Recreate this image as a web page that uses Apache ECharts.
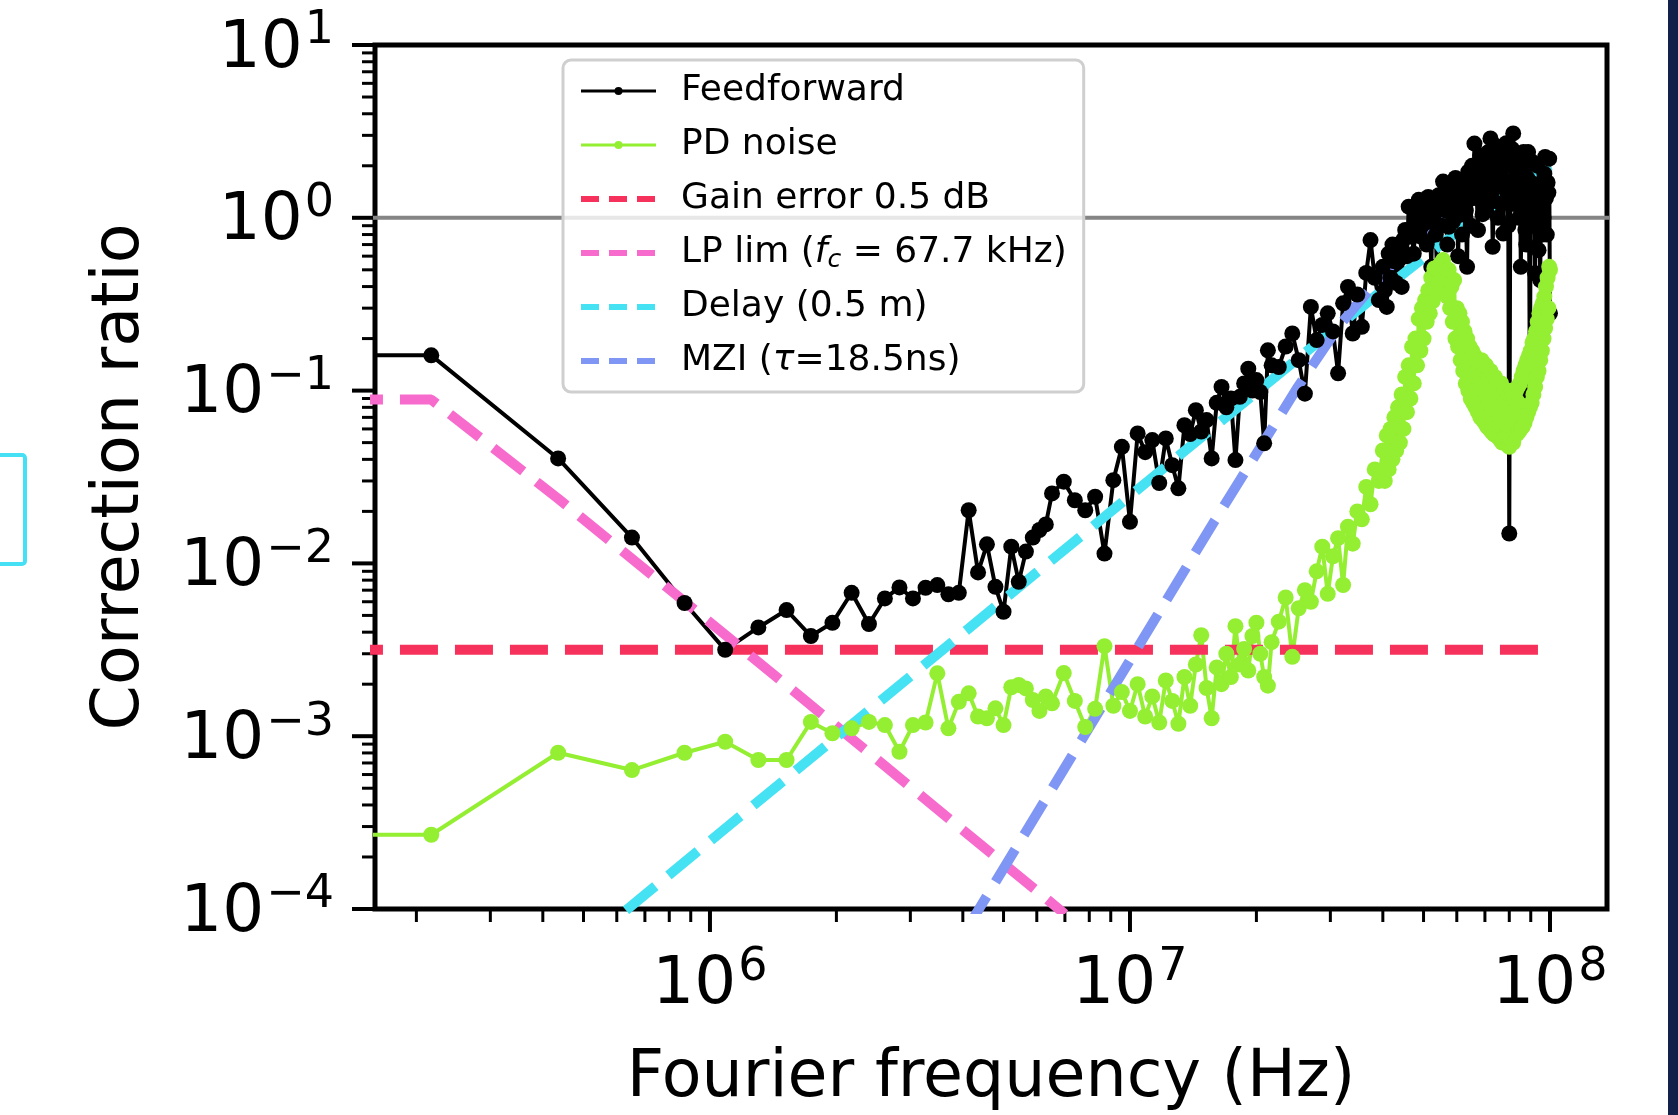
<!DOCTYPE html>
<html><head><meta charset="utf-8">
<script src="https://cdn.jsdelivr.net/npm/echarts@6/dist/echarts.min.js"></script>
<style>html,body{margin:0;padding:0;background:#fff;overflow:hidden}#c{width:1678px;height:1115px}</style>
</head><body><div id="c"></div>
<script>
// ---------- DATA ----------
// FFT bin frequencies (MHz); first entry lies left of the visible range
const freqMHz = [0.1,
0.217, 0.435, 0.652, 0.870, 1.087, 1.304, 1.522, 1.739, 1.957, 2.174,
2.391, 2.609, 2.826, 3.043, 3.261, 3.478, 3.696, 3.913, 4.130, 4.348,
4.565, 4.783, 5.000, 5.217, 5.435, 5.652, 5.870, 6.087, 6.304, 6.522,
6.957, 7.391, 7.826, 8.261, 8.696, 9.130, 9.565, 10.00, 10.43, 10.87,
11.30, 11.74, 12.17, 12.61, 13.04, 13.48, 13.91, 14.35, 14.78, 15.22,
15.65, 16.09, 16.52, 16.96, 17.39, 17.83, 18.26, 18.70, 19.13, 19.57,
20.00, 20.43, 20.87, 21.30, 21.74,
22.61, 23.48, 24.35, 25.22, 26.09, 26.96, 27.83, 28.70, 29.57, 30.43,
31.30, 32.17, 33.04, 33.91, 34.78, 35.65, 36.52, 37.39, 38.26, 39.13,
40.00, 40.43, 40.87, 41.30, 41.74, 42.17, 42.61, 43.04, 43.48, 43.91,
44.35, 44.78, 45.22, 45.65, 46.09, 46.52, 46.96, 47.39, 47.83, 48.26,
48.70, 49.13, 49.57, 50.00, 50.43, 50.87, 51.30, 51.74, 52.17, 52.61,
53.04, 53.48, 53.91, 54.35, 54.78, 55.22, 55.65, 56.09, 56.52, 56.96,
57.39, 57.83, 58.26, 58.70, 59.13, 59.57, 60.00, 60.43, 60.87, 61.30,
61.74, 62.17, 62.61, 63.04, 63.48, 63.91, 64.35, 64.78, 65.22, 65.65,
66.09, 66.52, 66.96, 67.39, 67.83, 68.26, 68.70, 69.13, 69.57, 70.00,
70.43, 70.87, 71.30, 71.74, 72.17, 72.61, 73.04, 73.48, 73.91, 74.35,
74.78, 75.22, 75.65, 76.09, 76.52, 76.96, 77.39, 77.83, 78.26, 78.70,
79.13, 79.57, 80.00, 80.43, 80.87, 81.30, 81.74, 82.17, 82.61, 83.04,
83.48, 83.91, 84.35, 84.78, 85.22, 85.65, 86.09, 86.52, 86.96, 87.39,
87.83, 88.26, 88.70, 89.13, 89.57, 90.00, 90.43, 90.87, 91.30, 91.74,
92.17, 92.61, 93.04, 93.48, 93.91, 94.35, 94.78, 95.22, 95.65, 96.09,
96.52, 96.96, 97.39, 97.83, 98.26, 98.70, 99.13, 99.57, 100.0];

const feedforward = [0.160,
0.160, 0.0405, 0.0141, 0.00590, 0.00316, 0.00426, 0.00537, 0.00380, 0.00453, 0.00676,
0.00446, 0.00627, 0.00726, 0.00627, 0.00723, 0.00749, 0.00662, 0.00676, 0.0203, 0.00887,
0.0129, 0.00732, 0.00525, 0.0125, 0.00782, 0.0117, 0.0141, 0.0156, 0.0168, 0.0254,
0.0297, 0.0232, 0.0203, 0.0243, 0.0114, 0.0303, 0.0473, 0.0174, 0.0565, 0.0440,
0.0517, 0.0292, 0.0529, 0.0370, 0.0272, 0.0630, 0.0560, 0.0770, 0.0580, 0.0675,
0.0405, 0.0850, 0.105, 0.0800, 0.0900, 0.0396, 0.0920, 0.110, 0.134, 0.100,
0.115, 0.0980, 0.0495, 0.171, 0.140,
0.137, 0.180, 0.214, 0.150, 0.096, 0.305, 0.196, 0.240, 0.280, 0.220,
0.126, 0.320, 0.398, 0.214, 0.360, 0.234, 0.480, 0.743, 0.450, 0.334,
0.52, 0.38, 0.305, 0.62, 0.45, 0.70, 0.56, 0.42, 0.70, 0.58,
0.398, 0.75, 0.85, 0.60, 1.16, 0.82, 0.776, 0.62, 0.95, 1.05,
1.27, 0.78, 0.90, 1.18, 1.10, 0.70, 1.32, 0.95, 0.52, 1.25,
1.05, 0.80, 0.426, 1.35, 1.20, 0.90, 1.62, 1.25, 1.10, 0.70,
0.887, 1.50, 1.30, 0.95, 1.00, 1.70, 1.45, 0.60, 1.20, 1.55,
0.80, 1.35, 1.60, 1.10, 0.52, 1.85, 1.40, 0.90, 2.00, 1.30,
2.69, 1.60, 1.30, 0.85, 1.97, 2.30, 1.50, 1.05, 2.20, 1.70,
1.10, 2.00, 2.40, 1.40, 2.88, 1.90, 0.68, 1.25, 1.80, 2.60,
1.58, 1.00, 2.30, 1.70, 1.20, 2.10, 0.81, 1.50, 2.00, 2.70,
1.40, 0.90, 0.0149, 1.30, 2.10, 2.50, 3.08, 1.20, 1.60, 2.20,
2.36, 1.50, 1.00, 1.90, 0.52, 1.30, 1.80, 2.40, 1.20, 0.85,
0.70, 1.70, 2.40, 1.10, 0.098, 1.60, 1.50, 2.10, 0.90, 1.30,
0.477, 1.20, 1.30, 2.00, 0.65, 1.10, 0.436, 1.50, 1.60, 0.80,
1.00, 1.80, 2.25, 1.30, 0.80, 1.60, 1.40, 2.20, 0.280];

const pdNoise = [2.69e-4,
2.69e-4, 8.02e-4, 6.37e-4, 8.02e-4, 9.29e-4, 7.28e-4, 7.28e-4, 1.21e-3, 1.04e-3, 1.11e-3,
1.21e-3, 1.16e-3, 8.13e-4, 1.16e-3, 1.20e-3, 2.31e-3, 1.11e-3, 1.58e-3, 1.77e-3, 1.30e-3,
1.27e-3, 1.45e-3, 1.16e-3, 1.92e-3, 1.98e-3, 1.89e-3, 1.62e-3, 1.40e-3, 1.70e-3, 1.55e-3,
2.32e-3, 1.60e-3, 1.13e-3, 1.44e-3, 3.32e-3, 1.50e-3, 1.80e-3, 1.40e-3, 2.00e-3, 1.30e-3,
1.70e-3, 1.20e-3, 2.10e-3, 1.60e-3, 1.18e-3, 2.20e-3, 1.50e-3, 2.60e-3, 3.84e-3, 1.90e-3,
1.27e-3, 2.50e-3, 2.00e-3, 3.00e-3, 2.20e-3, 4.33e-3, 2.60e-3, 3.20e-3, 2.40e-3, 3.80e-3,
4.54e-3, 3.00e-3, 2.20e-3, 1.96e-3, 3.50e-3,
4.60e-3, 6.35e-3, 2.88e-3, 5.50e-3, 7.00e-3, 6.00e-3, 9.00e-3, 0.0125, 6.67e-3, 0.0110,
0.0140, 7.50e-3, 0.0163, 0.0130, 0.0200, 0.0180, 0.0277, 0.0220, 0.0350, 0.0300,
0.0450, 0.0300, 0.0550, 0.0350, 0.0600, 0.0400, 0.0700, 0.0450, 0.0800, 0.0500,
0.0950, 0.0600, 0.120, 0.0750, 0.140, 0.0900, 0.179, 0.110, 0.200, 0.140,
0.260, 0.170, 0.300, 0.200, 0.334, 0.250, 0.380, 0.280, 0.450, 0.330,
0.509, 0.380, 0.500, 0.420, 0.540, 0.400, 0.569, 0.450, 0.500, 0.350,
0.500, 0.300, 0.400, 0.250, 0.436, 0.200, 0.300, 0.180, 0.280, 0.150,
0.250, 0.130, 0.220, 0.110, 0.200, 0.100, 0.180, 0.090, 0.170, 0.085,
0.160, 0.080, 0.150, 0.075, 0.140, 0.070, 0.150, 0.068, 0.130, 0.065,
0.140, 0.062, 0.120, 0.060, 0.130, 0.058, 0.110, 0.056, 0.120, 0.055,
0.110, 0.054, 0.100, 0.052, 0.110, 0.050, 0.095, 0.052, 0.100, 0.050,
0.090, 0.048, 0.0473, 0.095, 0.052, 0.100, 0.050, 0.090, 0.055, 0.100,
0.056, 0.105, 0.058, 0.110, 0.060, 0.120, 0.062, 0.130, 0.065, 0.140,
0.070, 0.150, 0.075, 0.160, 0.080, 0.170, 0.085, 0.190, 0.095, 0.200,
0.105, 0.220, 0.120, 0.250, 0.130, 0.280, 0.150, 0.300, 0.170, 0.320,
0.200, 0.350, 0.230, 0.400, 0.260, 0.450, 0.300, 0.520, 0.500];

const gainFreqMHz = [0.1, 100];
const gainValues = [0.00316, 0.00316];

const lpFreqMHz = [0.1, 0.217, 0.435, 1.0, 3.0, 7.0];
const lpValues = [0.0887, 0.0887, 0.0237, 0.00456, 5.09e-4, 9.35e-5];

const delayFreqMHz = [0.5, 1, 3, 10, 20, 30, 40, 50, 60, 70, 80, 90, 100];
const delayValues = [6.17e-5, 2.47e-4, 2.22e-3, 0.0246, 0.0979, 0.218, 0.382, 0.586, 0.824, 1.09, 1.38, 1.69, 2.0];

const mziFreqMHz = [3.5, 4.37, 10.0, 15.85, 25.1, 31.6, 39.8, 50.1, 60.3, 72.4, 85.1, 100];
const mziValues = [4.1e-5, 1.0e-4, 2.75e-3, 0.0174, 0.105, 0.24, 0.468, 0.83, 1.20, 1.46, 1.41, 1.19];

const unityFreqMHz = [0.1, 200];
const unityValues = [1, 1];

const xMajorTicks = [1e6, 1e7, 1e8];
const xMinorTicks = [2e5,3e5,4e5,5e5,6e5,7e5,8e5,9e5, 2e6,3e6,4e6,5e6,6e6,7e6,8e6,9e6, 2e7,3e7,4e7,5e7,6e7,7e7,8e7,9e7];
const yMajorTicks = [1e-4, 1e-3, 1e-2, 1e-1, 1, 10];
const yMinorTicks = [2e-4,3e-4,4e-4,5e-4,6e-4,7e-4,8e-4,9e-4, 2e-3,3e-3,4e-3,5e-3,6e-3,7e-3,8e-3,9e-3,
  2e-2,3e-2,4e-2,5e-2,6e-2,7e-2,8e-2,9e-2, 0.2,0.3,0.4,0.5,0.6,0.7,0.8,0.9, 2,3,4,5,6,7,8,9];

const X_MIN = 1.594e5, X_MAX = 1.367e8, Y_MIN = 1e-4, Y_MAX = 10;

const N_FF = 'Feedforward', N_PD = 'PD noise', N_GAIN = 'Gain error 0.5 dB',
      N_LP = 'LP lim (fc = 67.7 kHz)', N_DELAY = 'Delay (0.5 m)', N_MZI = 'MZI (\u03c4=18.5ns)';

// ---------- CHART ----------
const FONT = 'DejaVu Sans';
const toData = (fs, vs) => fs.map((f, i) => [f * 1e6, vs[i]]);
const supLabel = (v) => {
  const e = Math.log10(v), r = Math.round(e);
  if (Math.abs(e - r) > 1e-6) return '';
  return '{b|10}{s|' + (r < 0 ? '\u2212' + (-r) : r) + '}';
};
const richSup = {
  b: { fontSize: 66, fontFamily: FONT, color: '#000', lineHeight: 66, verticalAlign: 'bottom' },
  s: { fontSize: 46, fontFamily: FONT, color: '#000', lineHeight: 46, verticalAlign: 'bottom', padding: [0, 0, 28, 2] }
};

const chart = echarts.init(document.getElementById('c'), null, { renderer: 'canvas' });

const dashed = (name, fs, vs, color) => ({
  name, type: 'line', data: toData(fs, vs), symbol: 'none', silent: true,
  lineStyle: { color, width: 10, type: [38, 17], cap: 'butt' }, itemStyle: { color },
  emphasis: { disabled: true }
});
const legendDash = (name) => ({ name, lineStyle: { width: 6, type: [18, 10] }, itemStyle: { opacity: 0 } });

const xTickData = xMajorTicks.map(v => [v, Y_MIN, 1]).concat(xMinorTicks.map(v => [v, Y_MIN, 0]));
const yTickData = yMajorTicks.map(v => [X_MIN, v, 1]).concat(yMinorTicks.map(v => [X_MIN, v, 0]));

chart.setOption({
  animation: false,
  backgroundColor: '#fff',
  grid: { left: 375, right: 71, top: 45, bottom: 206, show: true, borderColor: '#000', borderWidth: 5,
          backgroundColor: 'transparent', containLabel: false, outerBoundsMode: 'none' },
  xAxis: {
    type: 'log', logBase: 10, min: X_MIN, max: X_MAX,
    name: 'Fourier frequency (Hz)', nameLocation: 'middle', nameGap: 138,
    nameTextStyle: { fontSize: 65, fontFamily: FONT, color: '#000' },
    axisLine: { show: false }, axisTick: { show: false }, splitLine: { show: false }, minorTick: { show: false },
    axisLabel: { margin: 44, formatter: supLabel, rich: richSup, hideOverlap: false }
  },
  yAxis: {
    type: 'log', logBase: 10, min: Y_MIN, max: Y_MAX,
    name: 'Correction ratio', nameLocation: 'middle', nameGap: 221,
    nameTextStyle: { fontSize: 65, fontFamily: FONT, color: '#000' },
    axisLine: { show: false }, axisTick: { show: false }, splitLine: { show: false }, minorTick: { show: false },
    axisLabel: { margin: 41, padding: [9, 0, 0, 0], formatter: supLabel, rich: richSup, hideOverlap: false }
  },
  legend: {
    left: 563, top: 60, orient: 'vertical', selectedMode: false,
    itemWidth: 75, itemHeight: 10, itemGap: 14,
    padding: [11, 17, 11, 15],
    backgroundColor: 'rgba(255,255,255,0.8)', borderColor: '#cfcfcf', borderWidth: 3, borderRadius: 8,
    textStyle: {
      fontSize: 36, fontFamily: FONT, color: '#000', lineHeight: 40, padding: [0, 0, 0, 20],
      rich: {
        i: { fontSize: 36, fontFamily: FONT, fontStyle: 'italic', color: '#000', lineHeight: 40 },
        sub: { fontSize: 25, fontFamily: FONT, fontStyle: 'italic', color: '#000', lineHeight: 20, verticalAlign: 'bottom' }
      }
    },
    formatter: (name) => {
      if (name === N_LP) return 'LP lim ({i|f}{sub|c} = 67.7 kHz)';
      if (name === N_MZI) return 'MZI ({i|\u03c4}=18.5ns)';
      return name;
    },
    data: [
      { name: N_FF, lineStyle: { width: 3 } },
      { name: N_PD, lineStyle: { width: 3 } },
      legendDash(N_GAIN), legendDash(N_LP), legendDash(N_DELAY), legendDash(N_MZI)
    ]
  },
  graphic: [
    { type: 'rect', silent: true, shape: { x: -20, y: 455, width: 45, height: 109, r: 3 }, style: { fill: 'none', stroke: '#45e0f4', lineWidth: 4 } },
    { type: 'rect', silent: true, shape: { x: 1668, y: 0, width: 10, height: 1115 }, style: { fill: '#13214a' } }
  ],
  series: [
    { name: 'unity', type: 'line', data: toData(unityFreqMHz, unityValues), symbol: 'none', silent: true,
      lineStyle: { color: '#858585', width: 4 }, emphasis: { disabled: true } },
    { name: N_FF, type: 'line', data: toData(freqMHz, feedforward), symbol: 'circle', symbolSize: 16,
      itemStyle: { color: '#000' }, lineStyle: { color: '#000', width: 4 }, emphasis: { disabled: true } },
    { name: N_PD, type: 'line', data: toData(freqMHz, pdNoise), symbol: 'circle', symbolSize: 16,
      itemStyle: { color: '#94ee32' }, lineStyle: { color: '#94ee32', width: 4 }, emphasis: { disabled: true } },
    dashed(N_GAIN, gainFreqMHz, gainValues, '#f6325c'),
    dashed(N_LP, lpFreqMHz, lpValues, '#f76bcc'),
    dashed(N_DELAY, delayFreqMHz, delayValues, '#44e2f2'),
    dashed(N_MZI, mziFreqMHz, mziValues, '#8096f5'),
    { name: 'xticks', type: 'custom', coordinateSystem: 'cartesian2d', clip: false, silent: true, data: xTickData,
      renderItem: (params, api) => {
        const p = api.coord([api.value(0), api.value(1)]);
        const major = api.value(2) === 1;
        return { type: 'line', shape: { x1: p[0], y1: p[1], x2: p[0], y2: p[1] + (major ? 23 : 13) },
                 style: { stroke: '#000', lineWidth: major ? 4 : 3 } };
      } },
    { name: 'yticks', type: 'custom', coordinateSystem: 'cartesian2d', clip: false, silent: true, data: yTickData,
      renderItem: (params, api) => {
        const p = api.coord([api.value(0), api.value(1)]);
        const major = api.value(2) === 1;
        return { type: 'line', shape: { x1: p[0] - (major ? 23 : 13), y1: p[1], x2: p[0], y2: p[1] },
                 style: { stroke: '#000', lineWidth: major ? 4 : 3 } };
      } }
  ]
});
</script>
</body></html>
